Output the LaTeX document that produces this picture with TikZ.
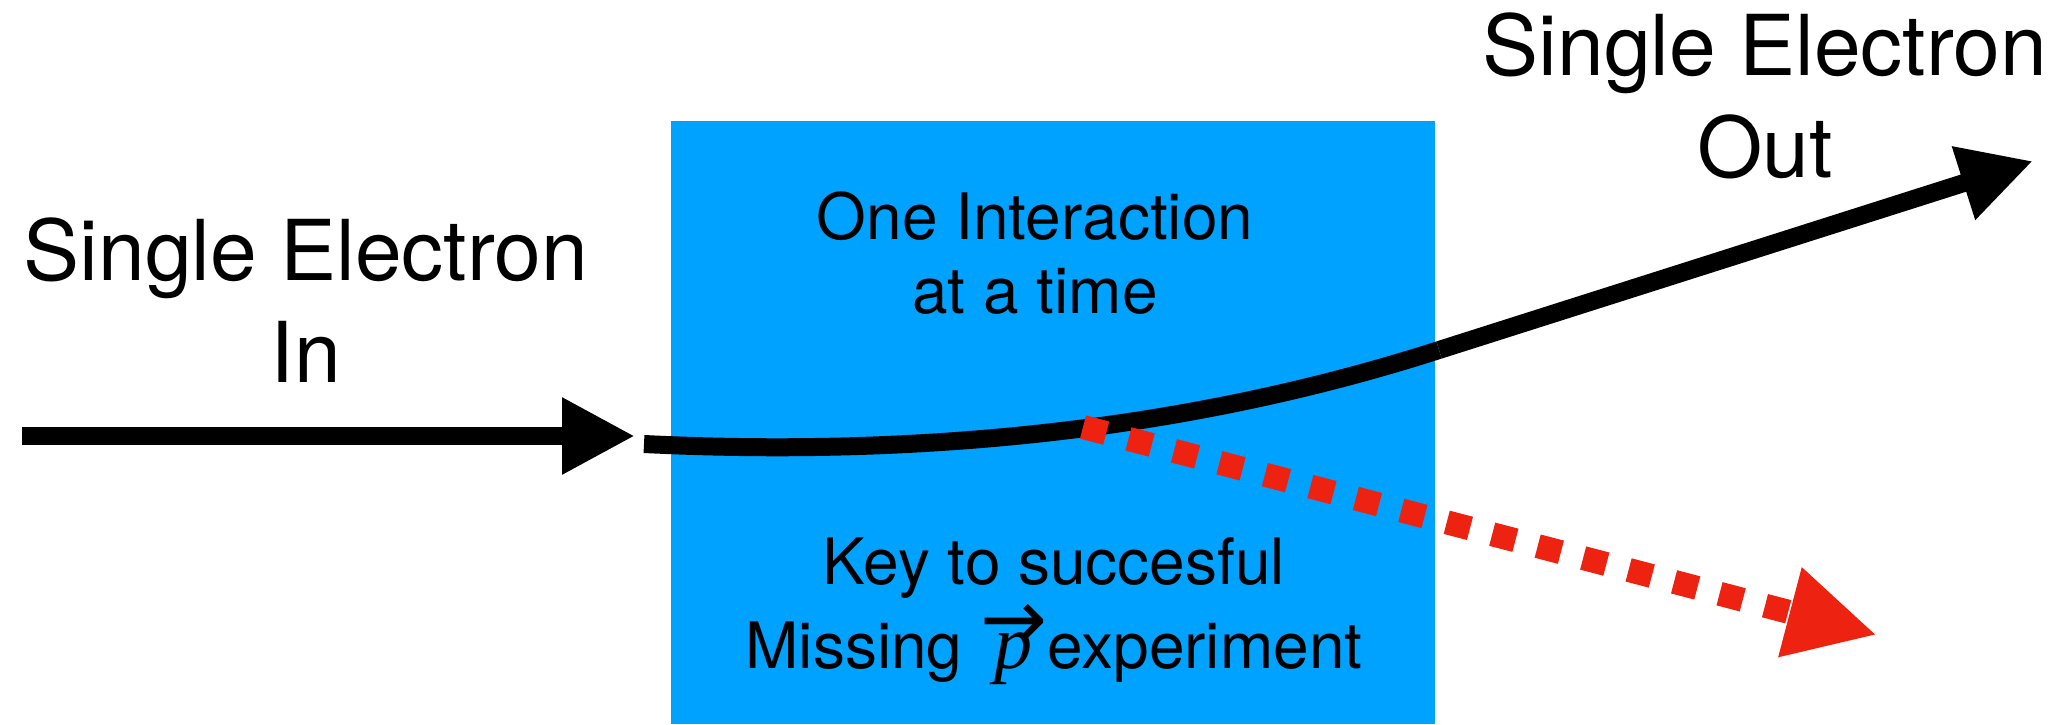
\documentclass[tikz,border=0pt]{standalone}
\usepackage{fontspec}
\setmainfont{TeX Gyre Heros}
\newfontfamily\serifit{Liberation Serif}
\newfontfamily\arrowfont{DejaVu Sans}
\usetikzlibrary{arrows.meta}
\definecolor{boxblue}{RGB}{0,162,255}
\definecolor{arrowred}{RGB}{238,34,17}
\newcommand{\vecp}{\mbox{\ooalign{\hfil\raisebox{11pt}{\fontsize{40}{40}\arrowfont →}\hfil\cr\hfil{\fontsize{38}{38}\serifit\itshape p}\hfil\cr}}}
\begin{document}
\begin{tikzpicture}[x=0.5pt,y=-0.5pt,
  biglabel/.style={font=\fontsize{42}{51}\selectfont, align=center, inner sep=0pt, text depth=0pt, anchor=south},
  boxtext/.style={font=\fontsize{32}{37}\selectfont, align=center, inner sep=0pt, text depth=0pt, anchor=south},
  blackline/.style={line width=9pt, black},
  blackarrow/.style={blackline, -{Triangle[length=36.5pt,width=36pt]}},
  redarrow/.style={line width=12pt, arrowred, dash pattern=on 12pt off 11.5pt, -{Triangle[length=45pt,width=43pt]}}
]
\useasboundingbox (0,0) rectangle (2070,724);
\node (box) [fill=boxblue, minimum width=382pt, minimum height=301.5pt, inner sep=0pt, anchor=north west] at (671,121) {};

\node[biglabel] (inlabel) at (306,383) {Single Electron\\In};
\node[biglabel] (outlabel) at (1765,178) {Single Electron\\Out};
\node[boxtext] (onetext) at (1035,314) {One Interaction\\at a time};
\node[boxtext, font=\fontsize{32}{42}\selectfont] (keytext) at (1054,669) {Key to succesful\\Missing \vecp experiment};

\coordinate (inS) at (22,436);
\coordinate (inE) at (635,436);
\draw[blackarrow] (inS) -- (inE);

\coordinate (c0) at (644,444);
\coordinate (ca) at (934,458);
\coordinate (cb) at (1199,427);
\coordinate (c1) at (1439,350);
\draw[blackline] (c0) .. controls (ca) and (cb) .. (c1);
\coordinate (outTip) at (2033,161);
\draw[blackarrow] (c1) -- (outTip);

\coordinate (r0) at (1083,427);
\coordinate (rTip) at (1877,635);
\draw[redarrow] (r0) -- (rTip);
\end{tikzpicture}
\end{document}
